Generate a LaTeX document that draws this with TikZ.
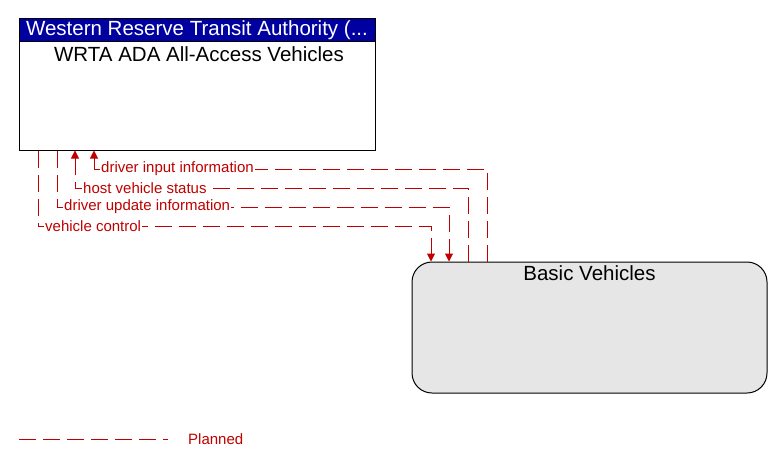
\documentclass[tikz,border=0pt]{standalone}
\usepackage{fontspec}
\setmainfont{Liberation Sans}
\usetikzlibrary{arrows.meta}
\definecolor{planred}{RGB}{192,0,0}
\definecolor{headblue}{RGB}{0,0,160}
\definecolor{boxgray}{RGB}{230,230,230}

\begin{document}
\begin{tikzpicture}
[x=1pt,y=-1pt,
 flow/.style={draw=planred,line width=1pt,dash pattern=on 17pt off 7pt},
 arr/.style={-{Triangle[width=8pt,length=8pt]}},
 flowlabel/.style={text=planred,fill=white,inner sep=1pt,anchor=west,font=\fontsize{15}{18}\selectfont},
 bigtext/.style={inner sep=0pt,font=\fontsize{20.5}{24}\selectfont}]
\useasboundingbox (0,0) rectangle (783,468);
\node[draw,line width=1pt,minimum width=356pt,minimum height=131pt,inner sep=0pt] (wrta) at (197,84.5) {};
\node[draw,line width=1pt,fill=headblue,text=white,minimum width=356pt,minimum height=23pt,bigtext] (wrtahead) at (197,30.5) {Western Reserve Transit Authority (...};
\node[bigtext] (wrtaname) at (199,54) {WRTA ADA All-Access Vehicles};
\node[draw,line width=1pt,fill=boxgray,rounded corners=20pt,minimum width=355pt,minimum height=131pt] (basic) at (589.5,327.5) {};
\node[bigtext] (basicname) at (589.5,273.5) {Basic Vehicles};
\coordinate (vc1) at (38,226);
\coordinate (vc2) at (431,226);
\coordinate (du1) at (57,207);
\coordinate (du2) at (449,207);
\coordinate (hs1) at (75,188);
\coordinate (hs2) at (468,188);
\coordinate (di1) at (94,169);
\coordinate (di2) at (487,169);
\foreach \from/\to in {vc1/vc2,du1/du2}
\draw[flow,arr] (wrta.south -| \from) -- (\from) -- (\to) -- (basic.north -| \to);
\foreach \from/\to in {hs1/hs2,di1/di2}
\draw[flow,arr] (basic.north -| \to) -- (\to) -- (\from) -- (wrta.south -| \from);
\node[flowlabel] (vclab) at (44,226) {vehicle control};
\node[flowlabel] (dulab) at (63,207) {driver update information};
\node[flowlabel] (hslab) at (82,188) {host vehicle status};
\node[flowlabel] (dilab) at (100,169) {driver input information};
\coordinate (leg1) at (19,439);
\coordinate (leg2) at (168,439);
\draw[flow] (leg1) -- (leg2);
\node[flowlabel] (planned) at (187,439) {Planned};
\end{tikzpicture}
\end{document}
